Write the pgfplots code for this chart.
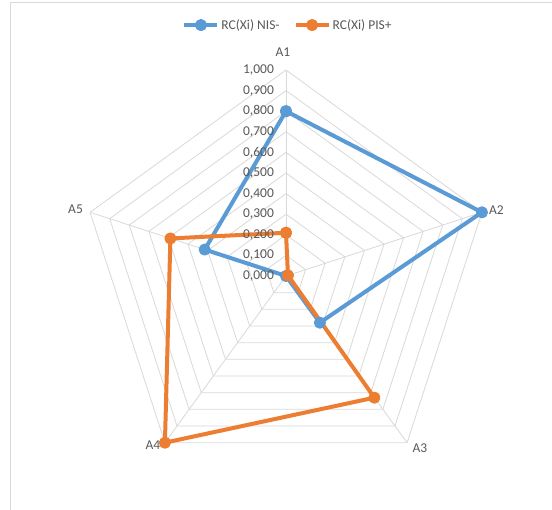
\documentclass[border=0pt]{standalone}
\usepackage{pgfplots}
\pgfplotsset{compat=1.18}
\usepackage{fontspec}
\setmainfont{Carlito}
\definecolor{nisblue}{RGB}{91,155,213}
\definecolor{pisorange}{RGB}{237,125,49}
\definecolor{gridgray}{RGB}{217,217,217}
\definecolor{txtgray}{RGB}{89,89,89}
\tikzset{lbl/.style={font=\fontsize{13.5bp}{16bp}\selectfont, text=txtgray, inner sep=0pt}}
\begin{document}
\begin{tikzpicture}
\useasboundingbox (0,0) rectangle (552bp,510bp);
\fill[white] (0,0) rectangle (552bp,510bp);
\draw[gridgray, line width=1bp] (10bp,0) -- (10bp,507bp) -- (552bp,507bp);
\begin{axis}[
  at={(0,0)}, anchor=south west,
  x=206bp, y=206bp,
  xmin=-1.38835, xmax=1.29126, ymin=-1.13592, ymax=1.33981,
  hide axis, clip=false,
  legend style={at={(axis cs:0.01,1.218)}, anchor=center, draw=none, fill=none,
    font=\fontsize{13.5bp}{16bp}\selectfont, text=txtgray,
    /tikz/every even column/.append style={column sep=12bp}},
  legend columns=2,
  legend image code/.code={\draw[mark repeat=2,mark phase=2,#1] plot coordinates {(0bp,0bp) (16.5bp,0bp) (33bp,0bp)};},
]
% grid pentagons
\pgfplotsinvokeforeach{0.1,0.2,0.3,0.4,0.5,0.6,0.7,0.8,0.9,1.0}{
  \addplot[gridgray, line width=0.8bp, data cs=polar, forget plot] coordinates {(90,#1) (18,#1) (-54,#1) (-126,#1) (162,#1) (90,#1)};
}
% spokes
\pgfplotsinvokeforeach{90,18,-54,-126,162}{
  \addplot[gridgray, line width=0.8bp, data cs=polar, forget plot] coordinates {(#1,0) (#1,1)};
}
% data
\addplot[nisblue, line width=4bp, line join=round, mark=*, mark size=4bp, mark options={solid, fill=nisblue}, data cs=polar]
  coordinates {(90,0.80) (18,1.00) (-54,0.28) (-126,0.00) (162,0.415) (90,0.80)};
\addlegendentry{RC(Xi) NIS-}
\addplot[pisorange, line width=4bp, line join=round, mark=*, mark size=4bp, mark options={solid, fill=pisorange}, data cs=polar]
  coordinates {(90,0.21) (18,0.01) (-54,0.73) (-126,1.00) (162,0.59) (90,0.21)};
\addlegendentry{RC(Xi) PIS+}
% tick labels
\node[lbl, anchor=east] at (axis cs:-0.058,0.0) {0,000};
\node[lbl, anchor=east] at (axis cs:-0.058,0.1) {0,100};
\node[lbl, anchor=east] at (axis cs:-0.058,0.2) {0,200};
\node[lbl, anchor=east] at (axis cs:-0.058,0.3) {0,300};
\node[lbl, anchor=east] at (axis cs:-0.058,0.4) {0,400};
\node[lbl, anchor=east] at (axis cs:-0.058,0.5) {0,500};
\node[lbl, anchor=east] at (axis cs:-0.058,0.6) {0,600};
\node[lbl, anchor=east] at (axis cs:-0.058,0.7) {0,700};
\node[lbl, anchor=east] at (axis cs:-0.058,0.8) {0,800};
\node[lbl, anchor=east] at (axis cs:-0.058,0.9) {0,900};
\node[lbl, anchor=east] at (axis cs:-0.058,1.0) {1,000};
% category labels
\node[lbl] at (axis cs:-0.015,1.087) {A1};
\node[lbl, anchor=west] at (axis cs:0.985,0.32) {A2};
\node[lbl] at (axis cs:0.650,-0.835) {A3};
\node[lbl] at (axis cs:-0.646,-0.820) {A4};
\node[lbl, anchor=east] at (axis cs:-0.985,0.325) {A5};
\end{axis}
\end{tikzpicture}
\end{document}
